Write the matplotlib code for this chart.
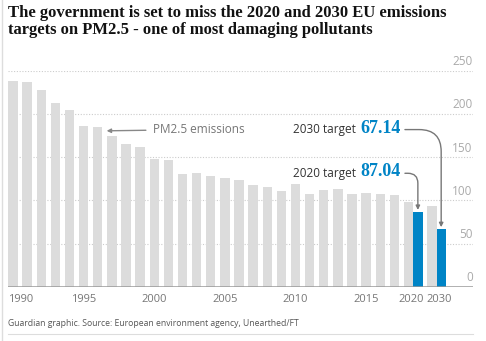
import numpy as np
import matplotlib
matplotlib.use("Agg")
import matplotlib.pyplot as plt

# UK PM2.5 emissions (kilotonnes)
years = list(range(1990, 2018))
emissions = [237.6, 236.5, 227.6, 212.6, 204.1, 186.1, 185.0, 174.6, 165.3, 162.2,
             147.6, 146.9, 130.7, 131.2, 128.2, 126.1, 123.4, 117.4, 115.3, 110.8,
             118.6, 107.1, 112.3, 113.8, 107.4, 108.6, 107.0, 106.8]
target_years = ["2020", "2030"]
projected = [97.8, 93.2]
targets = [87.04, 67.14]
tick_years = [1990, 1995, 2000, 2005, 2010, 2015]
y_ticks = [0, 50, 100, 150, 200, 250]

GREY = "#dcdcdc"
BLUE = "#0084c6"
TEXT = "#767676"

plt.rcParams['font.family'] = ['Open Sans', 'DejaVu Sans']

fig = plt.figure(figsize=(4.86, 3.41), dpi=100)
ax = fig.add_axes([0.0171, 0.1584, 0.9555, 0.6343])

width = 0.66
pos = np.arange(len(years))
proj_pos = len(years) + np.array([0, 1.65])
targ_pos = proj_pos + width

ax.bar(pos, emissions, width, color=GREY, zorder=2)
ax.bar(proj_pos, projected, width, color=GREY, zorder=2)
ax.bar(targ_pos, targets, width, color=BLUE, zorder=2)

ax.set_xlim(-width / 2, 32.54)
ax.set_ylim(0, 250)

for s in ax.spines.values():
    s.set_visible(False)
ax.set_xticks([])
ax.set_yticks([])

# dotted gridlines with labels sitting above them on the right
ytr = ax.get_yaxis_transform()
for v in y_ticks[1:]:
    ax.axhline(v, color="#cccccc", lw=0.8, ls=(0, (1, 1.5)), zorder=1)
for v in y_ticks:
    ax.text(1.0, v + 3, str(v), transform=ytr, ha="right", va="bottom",
            fontsize=8.5, color="#aaaaaa")
ax.axhline(0, color="#999999", lw=1.8, zorder=3)

# x labels
xtr = ax.get_xaxis_transform()
for y in tick_years:
    i = years.index(y)
    if i == 0:
        ax.text(pos[i] - width / 2, -0.06, str(y), transform=xtr, ha="left",
                va="center", fontsize=8, color=TEXT)
    else:
        ax.text(pos[i], -0.06, str(y), transform=xtr, ha="center",
                va="center", fontsize=8, color=TEXT)
for lab, p in zip(target_years, proj_pos + [0.2, 0.5]):
    ax.text(p, -0.06, lab, transform=xtr, ha="center", va="center",
            fontsize=8, color=TEXT)

# emissions label
ax.annotate("PM2.5 emissions", xy=(6.63, 180.5), xytext=(9.9, 182),
            ha="left", va="center", fontsize=8.5, color=TEXT,
            arrowprops=dict(arrowstyle="-|>", color="#888888", lw=1,
                            mutation_scale=6, shrinkA=3, shrinkB=0))

# target labels
label_y = [133, 183.5]
rads = [10, 22]
for i in range(2):
    num = ax.text(27.45, label_y[i], f"{targets[i]:.2f}", ha="right", va="center",
                  fontsize=13, fontweight="bold", color=BLUE,
                  family=["Liberation Serif", "DejaVu Serif"])
    ax.annotate(f"{target_years[i]} target", xy=(0, 0.42), xycoords=num,
                xytext=(-3, 0), textcoords="offset points", ha="right",
                va="center", fontsize=8.5, color="#333333")
    ax.annotate("", xy=(targ_pos[i], targets[i] + 2), xycoords="data",
                xytext=(1, 0.42), textcoords=num,
                arrowprops=dict(arrowstyle="-|>", color="#777777", lw=1,
                                mutation_scale=6, shrinkA=3, shrinkB=0,
                                connectionstyle=f"angle,angleA=0,angleB=90,rad={rads[i]}"))

# title, footer and frame lines
fig.text(0.0165, 0.985, "The government is set to miss the 2020 and 2030 EU emissions\n"
         "targets on PM2.5 - one of most damaging pollutants",
         ha="left", va="top", fontsize=12.0, fontweight="bold", color="#121212",
         family=["Liberation Serif", "DejaVu Serif"], linespacing=1.1)
fig.text(0.0165, 1 - 323.7 / 341, "Guardian graphic. Source: European environment agency, Unearthed/FT",
         ha="left", va="center", fontsize=6.2, color="#555555")
fig.add_artist(plt.Line2D([8.3 / 486, 472.7 / 486], [1 - 333.5 / 341] * 2,
                          color="#dddddd", lw=0.8, transform=fig.transFigure))
fig.add_artist(plt.Line2D([1.5 / 486] * 2, [0, 1], color="#dddddd", lw=1,
                          transform=fig.transFigure))

fig.savefig("out.png", dpi=100)
